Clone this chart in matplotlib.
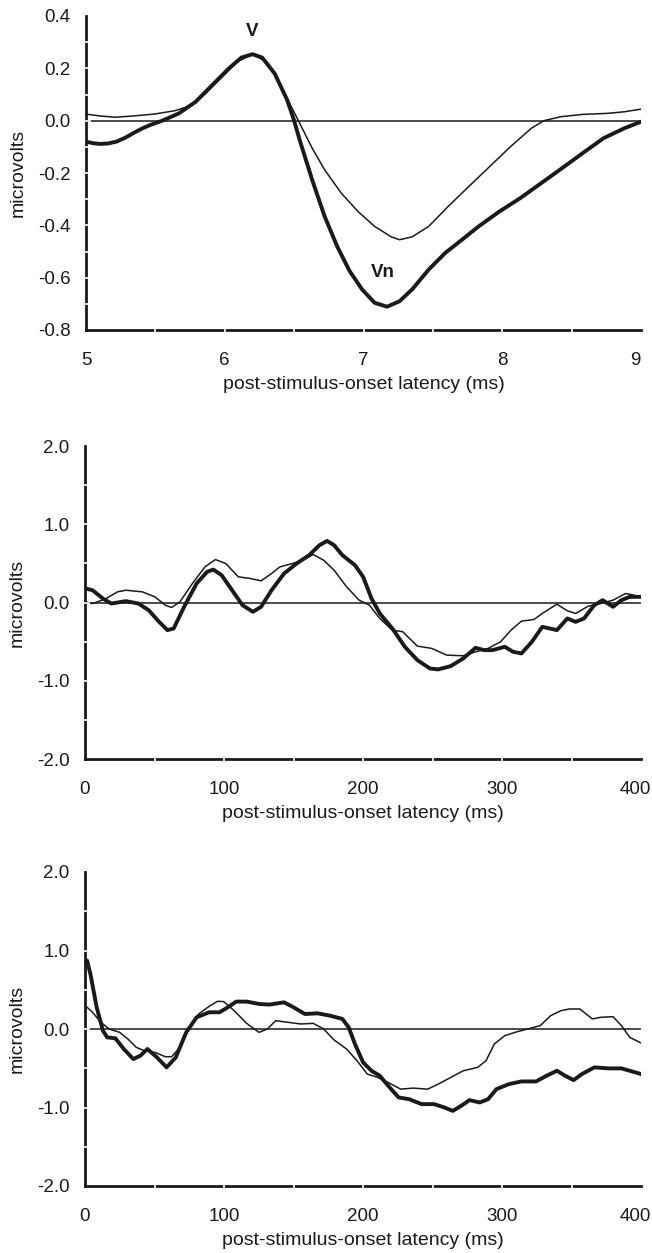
import matplotlib
matplotlib.use("Agg")
import matplotlib.pyplot as plt
import matplotlib.transforms as mtransforms
import numpy as np

plt.rcParams['font.family'] = ['Liberation Sans', 'DejaVu Sans']

# ---------------- Panel A (5-9 ms) ----------------
a_thick_x = [5.0, 5.05, 5.10, 5.16, 5.22, 5.28, 5.34, 5.40, 5.46, 5.55, 5.67, 5.79, 5.91, 6.03, 6.12,
             6.20, 6.27, 6.36, 6.45, 6.50, 6.54, 6.63, 6.72, 6.81, 6.90, 6.99, 7.08, 7.17, 7.26,
             7.35, 7.47, 7.59, 7.71, 7.83, 7.98, 8.13, 8.28, 8.43, 8.58, 8.73, 8.88, 9.0]
a_thick_y = [-0.08, -0.086, -0.089, -0.087, -0.08, -0.066, -0.048, -0.031, -0.017, 0.0, 0.028,
             0.072, 0.136, 0.2, 0.241, 0.254, 0.241, 0.18, 0.079, 0.0, -0.074, -0.226, -0.366,
             -0.48, -0.575, -0.645, -0.696, -0.711, -0.69, -0.645, -0.569, -0.505, -0.455,
             -0.404, -0.347, -0.296, -0.239, -0.182, -0.124, -0.067, -0.029, -0.004]
a_thin_x = [5.0, 5.10, 5.21, 5.34, 5.49, 5.64, 5.73, 5.85, 5.97, 6.09, 6.20, 6.30, 6.39, 6.48,
            6.54, 6.63, 6.72, 6.84, 6.96, 7.08, 7.20, 7.26, 7.35, 7.47, 7.61, 7.76, 7.91, 8.06,
            8.21, 8.30, 8.42, 8.58, 8.76, 8.88, 9.0]
a_thin_y = [0.025, 0.018, 0.013, 0.018, 0.025, 0.038, 0.053, 0.098, 0.161, 0.225, 0.254, 0.225,
            0.149, 0.053, -0.01, -0.105, -0.188, -0.277, -0.347, -0.404, -0.444, -0.455, -0.444,
            -0.404, -0.328, -0.251, -0.175, -0.099, -0.029, 0.0, 0.015, 0.024, 0.028, 0.034, 0.044]
a_yticks = [0.4, 0.2, 0.0, -0.2, -0.4, -0.6, -0.8]
a_ytick_labels = ["0.4", "0.2", "0.0", "-0.2", "-0.4", "-0.6", "-0.8"]
a_xticks = [5, 6, 7, 8, 9]
a_xtick_labels = ["5", "6", "7", "8", "9"]
a_annot = [("V", 6.20, 0.34), ("Vn", 7.14, -0.58)]

# ---------------- Panel B (0-400 ms) ----------------
b_thick_x = [0, 5.4, 12.9, 18.9, 29.4, 38.4, 45.8, 53.3, 59.3, 63.8, 71.3, 80.3, 87.8, 92.3, 98.3,
             105.8, 113.3, 120.8, 126.7, 134.2, 143.2, 152.2, 161.2, 168.7, 174.1, 179.2, 185.2,
             194.2, 200.1, 206.1, 212.1, 221.1, 230.1, 239.1, 248.1, 254.1, 263.1, 272.1, 281.0,
             287.0, 293.0, 302.0, 308.0, 314.0, 321.5, 329.0, 339.5, 347.0, 353.0, 359.0, 366.4,
             372.4, 379.9, 385.9, 391.9, 400]
b_thick_y = [0.18, 0.157, 0.05, -0.013, 0.017, -0.013, -0.098, -0.247, -0.353, -0.332, -0.055,
             0.243, 0.391, 0.421, 0.349, 0.157, -0.034, -0.119, -0.055, 0.157, 0.37, 0.498, 0.604,
             0.732, 0.787, 0.732, 0.604, 0.477, 0.328, 0.051, -0.14, -0.332, -0.566, -0.736,
             -0.843, -0.855, -0.813, -0.715, -0.579, -0.609, -0.609, -0.566, -0.63, -0.651,
             -0.502, -0.311, -0.353, -0.204, -0.247, -0.204, -0.034, 0.03, -0.055, 0.03, 0.072,
             0.072]
b_thin_x = [0, 5.4, 14.4, 23.4, 29.4, 41.3, 50.3, 57.8, 62.3, 68.3, 77.3, 86.3, 93.8, 101.3,
            110.3, 119.2, 126.7, 134.2, 140.2, 149.2, 156.7, 164.2, 171.7, 179.2, 188.2, 197.2,
            204.6, 212.1, 221.1, 228.6, 239.1, 249.6, 260.1, 272.1, 281.0, 290.0, 299.0, 306.5,
            314.0, 323.0, 329.0, 339.5, 347.0, 353.0, 362.0, 371.0, 379.9, 388.9, 394.9, 400]
b_thin_y = [0.01, -0.013, 0.043, 0.136, 0.157, 0.136, 0.072, -0.034, -0.064, 0.009, 0.243,
            0.455, 0.549, 0.498, 0.328, 0.306, 0.277, 0.37, 0.455, 0.498, 0.54, 0.613, 0.54,
            0.413, 0.2, 0.03, -0.034, -0.204, -0.353, -0.374, -0.557, -0.587, -0.672, -0.681,
            -0.63, -0.587, -0.502, -0.353, -0.238, -0.217, -0.14, -0.021, -0.106, -0.14, -0.047,
            -0.013, 0.03, 0.115, 0.094, 0.064]

# ---------------- Panel C (0-400 ms) ----------------
c_thick_x = [1.5, 3.9, 8.4, 12.9, 15.9, 21.9, 27.9, 34.8, 39.8, 44.9, 51.8, 58.7, 65.3, 72.8,
             80.3, 89.3, 96.8, 102.8, 108.8, 116.3, 125.2, 132.7, 143.2, 149.2, 158.2, 167.2,
             176.2, 185.2, 189.7, 194.2, 200.1, 206.1, 212.1, 218.1, 225.6, 233.1, 242.1, 251.1,
             258.6, 264.6, 270.6, 276.6, 284.0, 290.0, 296.0, 305.0, 314.0, 324.5, 332.0, 339.5,
             345.5, 351.5, 357.5, 366.4, 376.9, 385.9, 391.9, 400]
c_thick_y = [0.872, 0.70, 0.277, -0.021, -0.106, -0.119, -0.255, -0.383, -0.34, -0.255, -0.362,
             -0.489, -0.362, -0.043, 0.149, 0.213, 0.213, 0.277, 0.349, 0.349, 0.319, 0.311,
             0.34, 0.285, 0.191, 0.2, 0.17, 0.128, 0.021, -0.191, -0.426, -0.532, -0.596, -0.723,
             -0.872, -0.894, -0.957, -0.957, -1.0, -1.043, -0.979, -0.906, -0.936, -0.894,
             -0.766, -0.702, -0.668, -0.668, -0.596, -0.532, -0.596, -0.651, -0.574, -0.489,
             -0.502, -0.502, -0.532, -0.574]
c_thin_x = [1.5, 5.4, 11.4, 17.4, 24.9, 30.9, 36.9, 42.8, 50.3, 57.8, 62.3, 68.3, 74.3, 81.8,
            89.3, 95.3, 99.8, 107.3, 116.3, 125.2, 131.2, 137.2, 146.2, 155.2, 164.2, 171.7,
            179.2, 188.2, 195.7, 203.1, 210.6, 218.1, 227.1, 236.1, 246.6, 254.1, 263.1, 272.1,
            282.5, 288.5, 294.5, 302.0, 311.0, 318.5, 327.5, 335.0, 342.5, 348.5, 356.0, 365.0,
            371.0, 379.9, 385.9, 391.9, 400]
c_thin_y = [0.277, 0.213, 0.085, 0.0, -0.043, -0.128, -0.234, -0.277, -0.298, -0.353, -0.353,
            -0.234, 0.0, 0.191, 0.289, 0.353, 0.349, 0.234, 0.072, -0.043, 0.0, 0.106, 0.085,
            0.064, 0.072, 0.0, -0.14, -0.255, -0.404, -0.574, -0.617, -0.681, -0.766, -0.753,
            -0.766, -0.702, -0.617, -0.532, -0.489, -0.404, -0.191, -0.085, -0.034, 0.0, 0.043,
            0.17, 0.234, 0.255, 0.255, 0.128, 0.149, 0.157, 0.043, -0.106, -0.179]

bc_yticks = [2.0, 1.0, 0.0, -1.0, -2.0]
bc_ytick_labels = ["2.0", "1.0", "0.0", "-1.0", "-2.0"]
bc_xticks = [0, 100, 200, 300, 400]
bc_xtick_labels = ["0", "100", "200", "300", "400"]

xlabel_text = "post-stimulus-onset latency (ms)"
ylabel_text = "microvolts"

W, H = 652, 1253
fig = plt.figure(figsize=(W / 100, H / 100), dpi=100)

def px_axes(left, top, right, bottom):
    ax = fig.add_axes([left / W, 1 - bottom / H, (right - left) / W, (bottom - top) / H])
    return ax, right - left, bottom - top

TICK_FS = 13.5
LABEL_FS = 14
INK = "#1a1a1a"

def style(ax, wpx, hpx, xlim, ylim, xticks, xlabels, yticks, ylabels, xgap, ygap):
    ax.set_xlim(*xlim)
    ax.set_ylim(*ylim)
    for s in ("top", "right"):
        ax.spines[s].set_visible(False)
    for s in ("left", "bottom"):
        ax.spines[s].set_linewidth(2.0)
        ax.spines[s].set_color(INK)
        ax.spines[s].set_zorder(1)
    ax.set_xticks(xticks)
    ax.set_xticklabels(xlabels, fontsize=TICK_FS, color=INK)
    ax.set_yticks(yticks)
    ax.set_yticklabels(ylabels, fontsize=TICK_FS, color=INK)
    ax.tick_params(length=0)
    ax.tick_params(axis="x", pad=16)
    ax.tick_params(axis="y", pad=11)
    # keep the rightmost tick label inside the figure
    last = ax.get_xticklabels()[-1]
    last.set_transform(last.get_transform() +
                       mtransforms.ScaledTranslation(-6 / 100, 0, fig.dpi_scale_trans))
    ax.axhline(0, color=INK, lw=1.1, zorder=2)
    ax.set_xlabel(xlabel_text, fontsize=LABEL_FS, color=INK)
    ax.set_ylabel(ylabel_text, fontsize=LABEL_FS, color=INK)
    ax.xaxis.set_label_coords(0.5, -46 / hpx)
    ax.yaxis.set_label_coords(-59 / wpx, 0.5)
    # white gaps across the axis lines
    gx = np.arange(xlim[0], xlim[1] + 1e-9, xgap)
    gy = np.arange(ylim[0], ylim[1] + 1e-9, ygap)
    tr_x = ax.get_xaxis_transform()
    tr_y = ax.get_yaxis_transform()
    for v in gx[1:-1]:
        ax.plot([v, v], [-5 / hpx, 5 / hpx], transform=tr_x, color="white", lw=1.2,
                clip_on=False, zorder=5, solid_capstyle="butt")
    for v in gy[1:-1]:
        ax.plot([-5 / wpx, 5 / wpx], [v, v], transform=tr_y, color="white", lw=1.2,
                clip_on=False, zorder=5, solid_capstyle="butt")

axA, wA, hA = px_axes(86, 16, 641, 330)
axA.plot(a_thin_x, a_thin_y, color=INK, lw=1.1, zorder=3, solid_joinstyle="round")
axA.plot(a_thick_x, a_thick_y, color=INK, lw=2.8, zorder=4, solid_joinstyle="round",
         solid_capstyle="round")
style(axA, wA, hA, (5, 9), (-0.8, 0.4), a_xticks, a_xtick_labels, a_yticks, a_ytick_labels, 0.5, 0.1)
for txt, x, y in a_annot:
    axA.text(x, y, txt, fontsize=TICK_FS, fontweight="bold", ha="center", va="center", color=INK)

axB, wB, hB = px_axes(85, 446, 641, 759)
axB.plot(b_thin_x, b_thin_y, color=INK, lw=1.1, zorder=3, solid_joinstyle="round")
axB.plot(b_thick_x, b_thick_y, color=INK, lw=2.8, zorder=4, solid_joinstyle="round",
         solid_capstyle="round")
style(axB, wB, hB, (0, 400), (-2.0, 2.0), bc_xticks, bc_xtick_labels, bc_yticks, bc_ytick_labels, 50, 0.5)

axC, wC, hC = px_axes(85, 872, 641, 1186)
axC.plot(c_thin_x, c_thin_y, color=INK, lw=1.1, zorder=3, solid_joinstyle="round")
axC.plot(c_thick_x, c_thick_y, color=INK, lw=2.8, zorder=4, solid_joinstyle="round",
         solid_capstyle="round")
style(axC, wC, hC, (0, 400), (-2.0, 2.0), bc_xticks, bc_xtick_labels, bc_yticks, bc_ytick_labels, 50, 0.5)

fig.savefig("out.png", dpi=100, facecolor="white")
